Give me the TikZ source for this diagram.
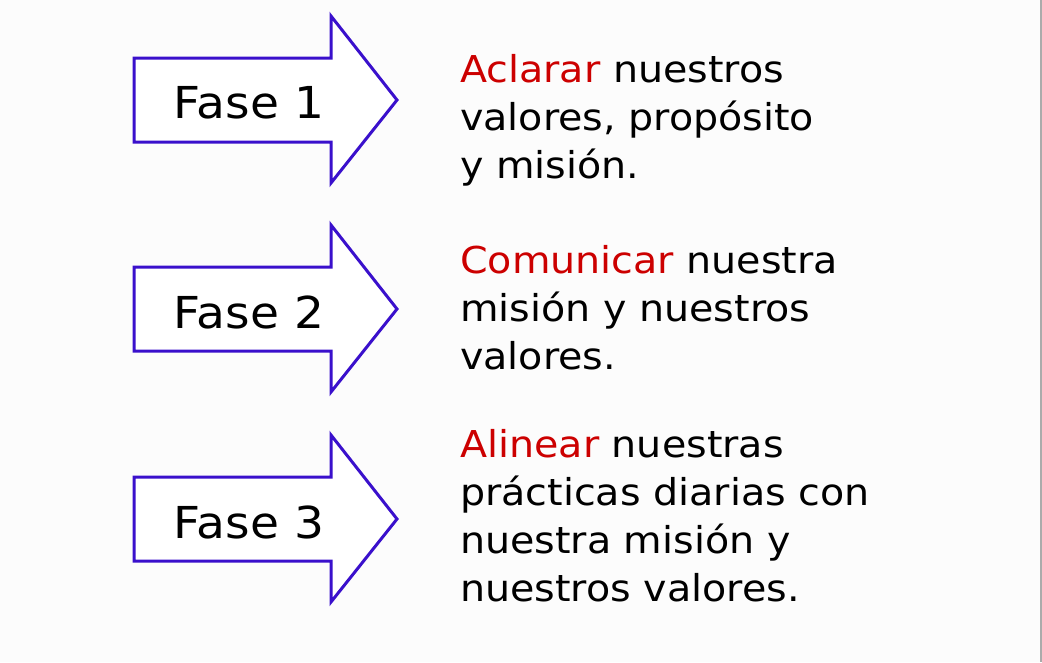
\documentclass[tikz,border=0pt]{standalone}
\usepackage{fontspec}
\setmainfont{DejaVu Sans}[FakeStretch=1.07]
\definecolor{flechaazul}{RGB}{58,16,204}
\definecolor{verborojo}{RGB}{204,0,0}

\begin{document}
\begin{tikzpicture}[x=1pt,y=-1pt,
    flecha/.style={draw=flechaazul, line width=3pt, fill=white, line join=miter},
    fase/.style={font=\fontsize{44}{44}\selectfont, inner sep=0pt},
    texto/.style={font=\fontsize{37}{48}\selectfont, align=left, anchor=base west, inner sep=0pt}]
  %
  \useasboundingbox (0,0) rectangle (1042,662);
  \fill[white!99!black] (0,0) rectangle (1042,662);
  \draw[black!33, line width=1.5pt] (1041,0) -- (1041,662);
  %
  \draw[flecha] (134,58) -- (331,58) -- (331,16) -- (397,100) -- (331,183) -- (331,142) -- (134,142) -- cycle;
  \draw[flecha, yshift=-209pt] (134,58) -- (331,58) -- (331,16) -- (397,100) -- (331,183) -- (331,142) -- (134,142) -- cycle;
  \draw[flecha, yshift=-419pt] (134,58) -- (331,58) -- (331,16) -- (397,100) -- (331,183) -- (331,142) -- (134,142) -- cycle;
  %
  \node[fase, anchor=base] (fase1) at (249,118) {Fase 1};
  \node[fase, anchor=base] (fase2) at (249,328) {Fase 2};
  \node[fase, anchor=base] (fase3) at (249,538) {Fase 3};
  %
  % base anchor sits on the last line
  \node[texto] (paso1) at (460,178) {\textcolor{verborojo}{Aclarar} nuestros\\valores, propósito\\y misión.};
  \node[texto] (paso2) at (460,369) {\textcolor{verborojo}{Comunicar} nuestra\\misión y nuestros\\valores.};
  \node[texto] (paso3) at (460,601) {\textcolor{verborojo}{Alinear} nuestras\\prácticas diarias con\\nuestra misión y\\nuestros valores.};
  %
\end{tikzpicture}
\end{document}
